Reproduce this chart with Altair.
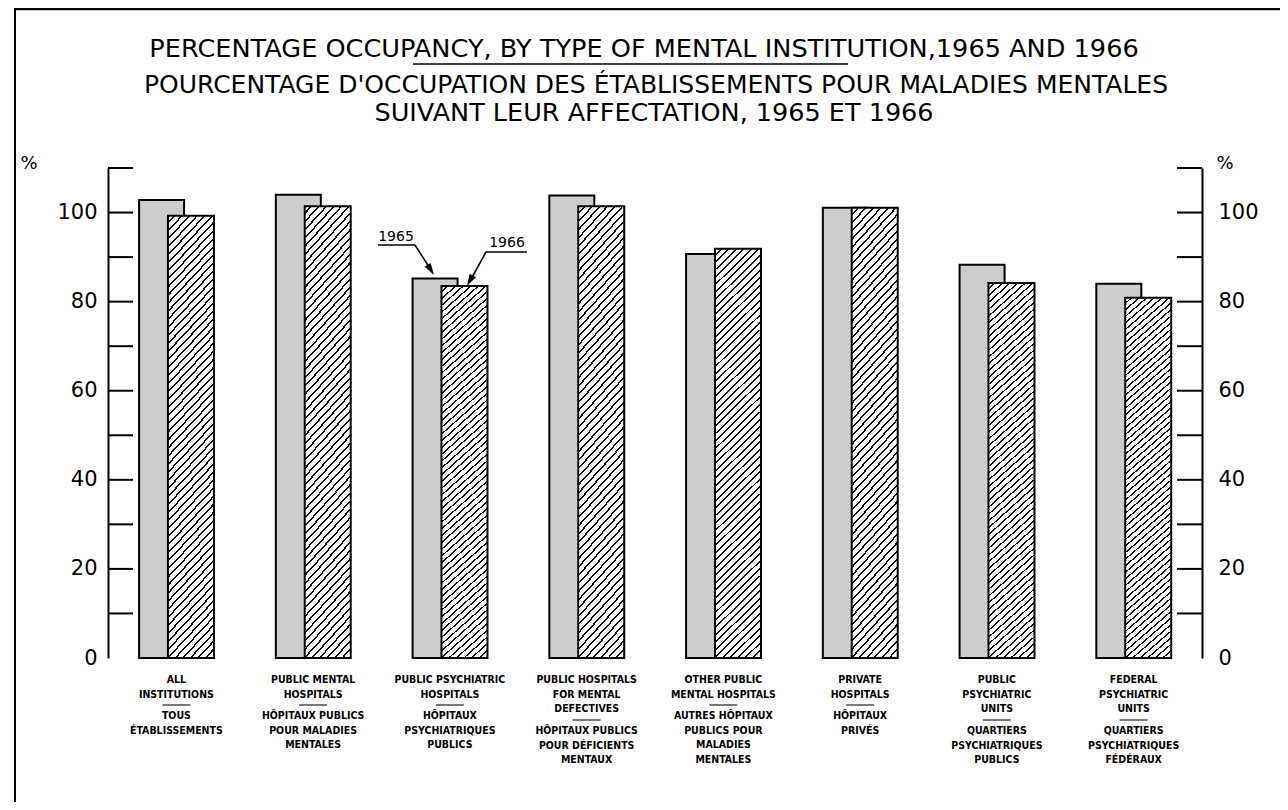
import altair as alt
import pandas as pd

# ---------------- data ----------------
english = [
    "ALL|INSTITUTIONS",
    "PUBLIC MENTAL|HOSPITALS",
    "PUBLIC PSYCHIATRIC|HOSPITALS",
    "PUBLIC HOSPITALS|FOR MENTAL|DEFECTIVES",
    "OTHER PUBLIC|MENTAL HOSPITALS",
    "PRIVATE|HOSPITALS",
    "PUBLIC|PSYCHIATRIC|UNITS",
    "FEDERAL|PSYCHIATRIC|UNITS",
]
french = [
    "TOUS|ÉTABLISSEMENTS",
    "HÔPITAUX PUBLICS|POUR MALADIES|MENTALES",
    "HÔPITAUX|PSYCHIATRIQUES|PUBLICS",
    "HÔPITAUX PUBLICS|POUR DÉFICIENTS|MENTAUX",
    "AUTRES HÔPITAUX|PUBLICS POUR|MALADIES|MENTALES",
    "HÔPITAUX|PRIVÉS",
    "QUARTIERS|PSYCHIATRIQUES|PUBLICS",
    "QUARTIERS|PSYCHIATRIQUES|FÉDÉRAUX",
]
occ_1965 = [102.8, 104.0, 85.2, 103.8, 90.7, 101.1, 88.3, 84.0]
occ_1966 = [99.3, 101.4, 83.5, 101.4, 91.9, 101.1, 84.2, 80.9]
y_ticks = [10, 20, 30, 40, 50, 60, 70, 80, 90, 100, 110]
y_labels = [0, 20, 40, 60, 80, 100]
y_domain = [0, 110]

title_lines = [
    "PERCENTAGE OCCUPANCY, BY TYPE OF MENTAL INSTITUTION,1965 AND 1966",
    "POURCENTAGE D'OCCUPATION DES ÉTABLISSEMENTS POUR MALADIES MENTALES",
    "SUIVANT LEUR AFFECTATION, 1965 ET 1966",
]
year_labels = ["1965", "1966"]

df = pd.DataFrame({"en": english, "fr": french, "v1965": occ_1965, "v1966": occ_1966})
ticks_df = pd.DataFrame({"tick": y_ticks})
ann_df = pd.DataFrame({"label": year_labels})
title_df = pd.DataFrame({"line": title_lines, "row": [0, 1, 2]})

# ---------------- styles ----------------
W, H = 1094, 490
GEO = "DejaVu Sans"
LBL = "Liberation Sans Narrow, DejaVu Sans Condensed, Arial Narrow, sans-serif"


def hatch(bw=46.0, bh=415.0, period=7.5, ink=0.26):
    r = bw / bh
    m = (1 + r) / (1 + r * r)
    n = int(round((bw + bh) / period))
    stops = []
    for k in range(n):
        a = k / n
        b = (k + 1 - ink) / n
        c = (k + 1) / n
        stops += [
            {"offset": round(a, 6), "color": "white"},
            {"offset": round(b, 6), "color": "white"},
            {"offset": round(b, 6), "color": "black"},
            {"offset": round(min(c, 1.0), 6), "color": "black"},
        ]
    return {"gradient": "linear", "x1": 0, "y1": 0, "x2": r * m, "y2": m, "stops": stops}


xenc = alt.X(
    "en:N",
    sort=english,
    scale=alt.Scale(paddingInner=0, paddingOuter=0),
    axis=alt.Axis(labels=False, ticks=False, title=None, grid=False, domain=True,
                  domainColor="black", domainWidth=2),
)
xenc_noaxis = alt.X("en:N", sort=english, axis=None)
yscale = alt.Scale(domain=y_domain, nice=False, zero=True)


def side_axis(orient, pad, tx):
    return alt.Axis(
        orient=orient, values=y_labels, ticks=False, grid=False, labelPadding=pad,
        labelFont=GEO, labelFontSize=21, labelColor="black", labelFlush=False, labelOverlap=False,
        domain=True, domainColor="black", domainWidth=2,
        title="%", titleAngle=0, titleAlign="left", titleBaseline="middle",
        titleX=tx, titleY=-5, titleFont=GEO, titleFontSize=18, titleFontWeight="normal",
        titleColor="black", titlePadding=0,
    )


base = alt.Chart(df)

bars65 = base.mark_bar(width=45, xOffset=-14.8, fill="#cdcdcd", stroke="black", strokeWidth=2).encode(
    x=xenc, y=alt.Y("v1965:Q", scale=yscale, axis=None)
)
bars66 = base.mark_bar(width=46, xOffset=14.6, fill=hatch(), stroke="black", strokeWidth=2).encode(
    x=xenc_noaxis, y=alt.Y("v1966:Q", scale=yscale, axis=None)
)

txt_common = dict(lineBreak="|", align="center", baseline="top", font=LBL, fontSize=10.5,
                  fontWeight="bold", lineHeight=14.5, color="black")

en_text = base.mark_text(**txt_common).encode(x=xenc_noaxis, y=alt.value(507), text="en:N")

counted = base.transform_calculate(n="length(split(datum.en, '|'))")
sep2 = counted.transform_filter("datum.n == 2").mark_tick(
    orient="horizontal", size=28, thickness=1.5, color="black"
).encode(x=xenc_noaxis, y=alt.value(537))
sep3 = counted.transform_filter("datum.n == 3").mark_tick(
    orient="horizontal", size=28, thickness=1.5, color="black"
).encode(x=xenc_noaxis, y=alt.value(552))
fr2 = counted.transform_filter("datum.n == 2").mark_text(**txt_common).encode(
    x=xenc_noaxis, y=alt.value(543), text="fr:N"
)
fr3 = counted.transform_filter("datum.n == 3").mark_text(**txt_common).encode(
    x=xenc_noaxis, y=alt.value(558), text="fr:N"
)

# title lines (text marks so they stay inside the page)
tch = alt.Chart(title_df)
tl = dict(font=GEO, align="center", baseline="alphabetic", color="black")
title1 = tch.transform_filter("datum.row == 0").mark_text(fontSize=25.6, **tl).encode(
    text="line:N", x=alt.value(536), y=alt.value(-111))
title2 = tch.transform_filter("datum.row == 1").mark_text(fontSize=25, **tl).encode(
    text="line:N", x=alt.value(548), y=alt.value(-75))
title3 = tch.transform_filter("datum.row == 2").mark_text(fontSize=25.5, **tl).encode(
    text="line:N", x=alt.value(546), y=alt.value(-47))

# annotation 1965 / 1966 with leader arrows
ann = alt.Chart(ann_df)
one = ann.transform_filter("datum.label == '1965'")
two = ann.transform_filter("datum.label == '1966'")
t65 = one.mark_text(font=GEO, fontSize=14, align="center", baseline="middle", color="black").encode(
    text="label:N", x=alt.value(288), y=alt.value(69))
t66 = two.mark_text(font=GEO, fontSize=14, align="center", baseline="middle", color="black").encode(
    text="label:N", x=alt.value(399), y=alt.value(75))
lead = dict(color="black", strokeWidth=1.6)
l65a = one.mark_rule(**lead).encode(x=alt.value(270), x2=alt.value(307), y=alt.value(77), y2=alt.value(77))
l65b = one.mark_rule(**lead).encode(x=alt.value(307), x2=alt.value(323), y=alt.value(77), y2=alt.value(102))
l66a = two.mark_rule(**lead).encode(x=alt.value(378), x2=alt.value(419), y=alt.value(84), y2=alt.value(84))
l66b = two.mark_rule(**lead).encode(x=alt.value(378), x2=alt.value(362), y=alt.value(84), y2=alt.value(113))
arrow_shape = "M0,1 L-0.6,-1 L0.6,-1 Z"
h65 = one.mark_point(shape=arrow_shape, filled=True, size=144, angle=327.7, color="black", opacity=1).encode(
    x=alt.value(322.8), y=alt.value(101.9))
h66 = two.mark_point(shape=arrow_shape, filled=True, size=144, angle=29.2, color="black", opacity=1).encode(
    x=alt.value(361.9), y=alt.value(112.8))

# frame and the separator line between English and French titles
frame_left = one.mark_rule(color="black", strokeWidth=2).encode(
    x=alt.value(-93), y=alt.value(-160), y2=alt.value(640))
frame_top = one.mark_rule(color="black", strokeWidth=2.5).encode(
    x=alt.value(-93), x2=alt.value(1180), y=alt.value(-159))
underline = one.mark_rule(color="black", strokeWidth=1.5).encode(
    x=alt.value(305), x2=alt.value(740), y=alt.value(-104))

main = alt.layer(
    bars65, bars66, en_text, sep2, sep3, fr2, fr3, title1, title2, title3,
    t65, t66, l65a, l65b, l66a, l66b, h65, h66, frame_left, frame_top, underline,
)

left_ticks = alt.Chart(ticks_df).mark_rule(color="black", strokeWidth=2).encode(
    y=alt.Y("tick:Q", scale=yscale, axis=side_axis("left", 11, -88)),
    x=alt.value(0), x2=alt.value(25),
)
right_ticks = alt.Chart(ticks_df).mark_rule(color="black", strokeWidth=2).encode(
    y=alt.Y("tick:Q", scale=yscale, axis=side_axis("right", 16, 14)),
    x=alt.value(W - 25), x2=alt.value(W),
)

chart = (
    alt.layer(main, left_ticks, right_ticks)
    .resolve_scale(y="independent")
    .properties(
        width=W,
        height=H,
        background="white",
        padding={"left": 100, "top": 160, "right": 78, "bottom": 144},
        autosize=alt.AutoSizeParams(type="none"),
    )
    .configure_view(stroke=None, strokeWidth=0)
    .configure_axis(domain=False, grid=False)
)

chart.save("out.html", embed_options={"renderer": "svg", "actions": False})
